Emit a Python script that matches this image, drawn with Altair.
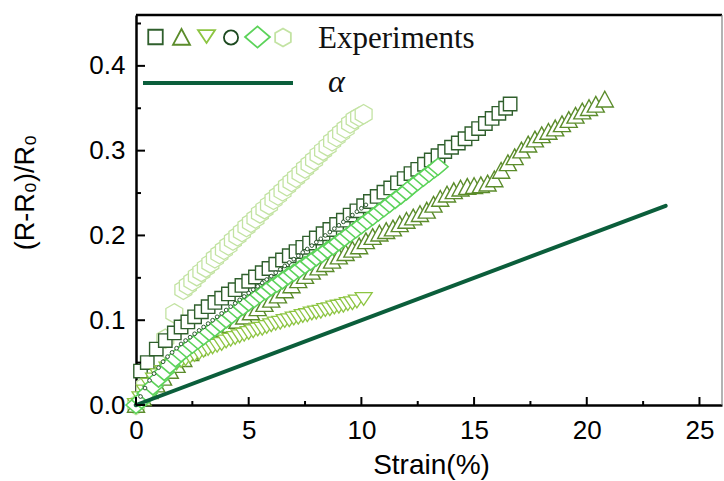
import altair as alt
import pandas as pd

# ---------------- data ----------------
sq_x = [0.2, 0.5, 0.9, 1.3, 1.7, 2.0, 2.3, 2.6, 2.9, 3.2, 3.5, 3.8, 4.1, 4.4, 4.7, 5.0, 5.3, 5.6, 5.9, 6.2,
        6.5, 6.8, 7.1, 7.4, 7.7, 8.0, 8.3, 8.6, 8.9, 9.2, 9.5, 9.8, 10.1, 10.4, 10.7, 11.0, 11.3, 11.6, 11.9,
        12.2, 12.5, 12.8, 13.1, 13.4, 13.7, 14.0, 14.3, 14.6, 14.9, 15.2, 15.5, 15.8, 16.1, 16.4, 16.6]
sq_y = [0.040, 0.050, 0.066, 0.076, 0.085, 0.092, 0.098, 0.104, 0.110, 0.116, 0.121, 0.126, 0.131, 0.136,
        0.141, 0.146, 0.151, 0.156, 0.161, 0.166, 0.171, 0.176, 0.181, 0.186, 0.191, 0.197, 0.202, 0.207,
        0.213, 0.218, 0.224, 0.229, 0.235, 0.240, 0.246, 0.251, 0.256, 0.262, 0.267, 0.273, 0.278, 0.284,
        0.289, 0.294, 0.299, 0.304, 0.309, 0.314, 0.320, 0.326, 0.332, 0.338, 0.344, 0.350, 0.355]

tu_x = [0.0, 0.3, 0.6, 0.9, 1.2, 1.5, 1.8, 2.1, 2.4, 2.7, 3.0, 3.3, 3.6, 3.9, 4.2, 4.5, 4.8, 5.1, 5.4, 5.7,
        6.0, 6.3, 6.6, 6.9, 7.2, 7.5, 7.8, 8.1, 8.4, 8.7, 9.0, 9.3, 9.6, 9.9, 10.2, 10.5, 10.8, 11.1, 11.4,
        11.7, 12.0, 12.3, 12.6, 12.9, 13.2, 13.5, 13.8, 14.1, 14.4, 14.7, 15.0, 15.3, 15.6, 15.9, 16.2, 16.5,
        16.8, 17.1, 17.4, 17.7, 18.0, 18.3, 18.6, 18.9, 19.2, 19.5, 19.8, 20.1, 20.4, 20.8]
tu_y = [0.000, 0.008, 0.016, 0.024, 0.032, 0.040, 0.047, 0.054, 0.061, 0.067, 0.073, 0.079, 0.084, 0.089,
        0.094, 0.099, 0.104, 0.109, 0.114, 0.119, 0.124, 0.129, 0.135, 0.141, 0.147, 0.152, 0.157, 0.162,
        0.166, 0.170, 0.175, 0.179, 0.183, 0.187, 0.193, 0.198, 0.202, 0.205, 0.208, 0.213, 0.217, 0.221,
        0.225, 0.229, 0.236, 0.243, 0.248, 0.252, 0.255, 0.257, 0.258, 0.259, 0.261, 0.266, 0.276, 0.285,
        0.292, 0.300, 0.307, 0.313, 0.318, 0.322, 0.326, 0.331, 0.336, 0.341, 0.346, 0.350, 0.354, 0.360]

td_x = [0.0, 0.2, 0.4, 0.6, 0.8, 1.0, 1.2, 1.4, 1.6, 1.8, 2.0, 2.2, 2.4, 2.6, 2.8, 3.0, 3.2, 3.4, 3.6, 3.8,
        4.0, 4.2, 4.4, 4.6, 4.8, 5.0, 5.2, 5.4, 5.6, 5.8, 6.0, 6.2, 6.4, 6.6, 6.8, 7.0, 7.2, 7.4, 7.6, 7.8,
        8.0, 8.2, 8.4, 8.6, 8.8, 9.0, 9.2, 9.4, 9.6, 9.8, 10.1]
td_y = [0.000, 0.008, 0.016, 0.024, 0.030, 0.035, 0.039, 0.043, 0.046, 0.049, 0.052, 0.054, 0.057, 0.059,
        0.061, 0.064, 0.066, 0.068, 0.070, 0.072, 0.075, 0.077, 0.079, 0.081, 0.083, 0.085, 0.087, 0.089,
        0.090, 0.092, 0.094, 0.096, 0.097, 0.099, 0.100, 0.102, 0.103, 0.105, 0.106, 0.108, 0.109, 0.110,
        0.112, 0.113, 0.115, 0.116, 0.117, 0.119, 0.120, 0.122, 0.125]

ci_x = [0.0, 0.2, 0.4, 0.6, 0.8, 1.0, 1.2, 1.4, 1.6, 1.8, 2.0, 2.2, 2.4, 2.6, 2.8, 3.0, 3.2, 3.4, 3.6, 3.8,
        4.0, 4.2, 4.4, 4.6, 4.8, 5.0, 5.2, 5.4, 5.6, 5.8, 6.0, 6.2, 6.4, 6.6, 6.8, 7.0, 7.2, 7.4, 7.6, 7.8,
        8.0, 8.2, 8.4, 8.6, 8.8, 9.0, 9.2, 9.4, 9.6, 9.8, 10.0, 10.2]
ci_y = [0.000, 0.010, 0.020, 0.029, 0.037, 0.044, 0.051, 0.057, 0.062, 0.067, 0.072, 0.076, 0.080, 0.084,
        0.088, 0.092, 0.096, 0.100, 0.104, 0.108, 0.112, 0.116, 0.120, 0.124, 0.128, 0.132, 0.136, 0.140,
        0.144, 0.148, 0.152, 0.156, 0.160, 0.164, 0.168, 0.172, 0.176, 0.180, 0.184, 0.188, 0.192, 0.196,
        0.200, 0.204, 0.208, 0.212, 0.216, 0.220, 0.224, 0.228, 0.232, 0.236]

di_x = [0.0, 0.25, 0.5, 0.75, 1.0, 1.25, 1.5, 1.75, 2.0, 2.25, 2.5, 2.75, 3.0, 3.25, 3.5, 3.75, 4.0, 4.25,
        4.5, 4.75, 5.0, 5.25, 5.5, 5.75, 6.0, 6.25, 6.5, 6.75, 7.0, 7.25, 7.5, 7.75, 8.0, 8.25, 8.5, 8.75,
        9.0, 9.25, 9.5, 9.75, 10.0, 10.25, 10.5, 10.75, 11.0, 11.25, 11.5, 11.75, 12.0, 12.25, 12.5, 12.75,
        13.0, 13.25, 13.4]
di_y = [0.000, 0.006, 0.014, 0.022, 0.031, 0.039, 0.047, 0.055, 0.061, 0.066, 0.071, 0.076, 0.081, 0.086,
        0.091, 0.096, 0.101, 0.106, 0.112, 0.116, 0.121, 0.125, 0.130, 0.134, 0.139, 0.143, 0.147, 0.152,
        0.156, 0.160, 0.165, 0.169, 0.174, 0.178, 0.183, 0.187, 0.192, 0.197, 0.202, 0.207, 0.212, 0.217,
        0.222, 0.227, 0.232, 0.237, 0.242, 0.247, 0.252, 0.258, 0.263, 0.268, 0.273, 0.278, 0.281]

hx_x = [0.0, 0.4, 0.9, 1.3, 1.7, 2.1, 2.3, 2.5, 2.7, 2.9, 3.1, 3.3, 3.5, 3.7, 3.9, 4.1, 4.3, 4.5, 4.7, 4.9,
        5.1, 5.3, 5.5, 5.7, 5.9, 6.1, 6.3, 6.5, 6.7, 6.9, 7.1, 7.3, 7.5, 7.7, 7.9, 8.1, 8.3, 8.5, 8.7, 8.9,
        9.1, 9.3, 9.5, 9.7, 9.9, 10.1]
hx_y = [0.000, 0.022, 0.050, 0.078, 0.108, 0.136, 0.141, 0.146, 0.152, 0.157, 0.162, 0.167, 0.173, 0.178,
        0.183, 0.188, 0.194, 0.199, 0.204, 0.210, 0.215, 0.220, 0.226, 0.231, 0.236, 0.242, 0.247, 0.252,
        0.258, 0.263, 0.268, 0.273, 0.279, 0.284, 0.289, 0.295, 0.300, 0.305, 0.311, 0.316, 0.321, 0.326,
        0.332, 0.337, 0.340, 0.343]

alpha_x = [0.0, 23.5]
alpha_y = [0.0, 0.235]

x_major = [0, 5, 10, 15, 20, 25]
x_minor = [2.5, 7.5, 12.5, 17.5, 22.5]
y_major = [0.0, 0.1, 0.2, 0.3, 0.4]
y_minor = [0.05, 0.15, 0.25, 0.35, 0.45]

legend_label = "Experiments"
line_label = "α"
x_title = "Strain(%)"
y_title = "(R-R₀)/R₀"

# ---------------- styling ----------------
W, H = 586, 390
C_SQ = "#2f5f2c"
C_TU = "#5b8c2b"
C_TD = "#8dc542"
C_CI = "#1d4a20"
C_DI = "#5cd35a"
C_HX = "#c3e3a3"
C_LINE = "#0b5e3b"

SH_SQ = "square"
SH_TU = "M0,-1L1,0.85L-1,0.85Z"
SH_TD = "M0,0.75L1,-0.75L-1,-0.75Z"
SH_DI = "M-1,0L0,-0.85L1,0L0,0.85Z"
SH_HX = "M0,-1L0.866,-0.5L0.866,0.5L0,1L-0.866,0.5L-0.866,-0.5Z"

xs = alt.Scale(domain=[0, 26], nice=False, zero=False)
ys = alt.Scale(domain=[0, 0.46], nice=False, zero=False)

X_AX = alt.Axis(
    values=x_major, title=x_title, grid=False, tickSize=0, ticks=False, labelPadding=12,
    labelFontSize=26, labelFont="Liberation Sans", labelColor="black",
    domainColor="black", domainWidth=2.5, labelFlush=False, labelOverlap=False,
    titleFont="Liberation Sans", titleFontSize=28, titleFontWeight="normal", titleColor="black",
    titleX=295, titleY=68, titleBaseline="alphabetic", titleAlign="center")
Y_AX = alt.Axis(
    values=y_major, format=".1f", title=y_title, grid=False, tickSize=0, ticks=False, labelPadding=11,
    labelFontSize=26, labelFont="Liberation Sans", labelColor="black",
    domainColor="black", domainWidth=2.5, labelFlush=False, labelOverlap=False,
    titleFont="Liberation Sans", titleFontSize=27, titleFontWeight="normal", titleColor="black",
    titleX=-111, titleY=177, titleAngle=-90, titleBaseline="middle", titleAlign="center")


def XE(f="x"):
    return alt.X(f"{f}:Q", scale=xs, axis=X_AX, title=x_title)


def YE(f="y"):
    return alt.Y(f"{f}:Q", scale=ys, axis=Y_AX, title=y_title)


def series(xv, yv, shape, size, color, sw=1.4):
    df = pd.DataFrame({"x": xv, "y": yv})
    return alt.Chart(df).mark_point(
        shape=shape, size=size, filled=True, fill="white", fillOpacity=1,
        stroke=color, strokeWidth=sw, opacity=1
    ).encode(x=XE(), y=YE())


one = pd.DataFrame({"a": [0]})

line_df = pd.DataFrame({"x": alpha_x, "y": alpha_y})
alpha_line = alt.Chart(line_df).mark_line(color=C_LINE, strokeWidth=4, strokeCap="round").encode(
    x=XE(), y=YE())


def xticks(vals, length):
    return alt.Chart(pd.DataFrame({"x": vals})).mark_rule(color="black", strokeWidth=2).encode(
        x=XE(), y=alt.value(H), y2=alt.value(H - length))


def yticks(vals, length):
    return alt.Chart(pd.DataFrame({"y": vals})).mark_rule(color="black", strokeWidth=2).encode(
        y=YE(), x=alt.value(0), x2=alt.value(length))


top_border = alt.Chart(one).mark_rule(color="black", strokeWidth=2.5).encode(
    x=alt.value(0), x2=alt.value(W), y=alt.value(0))
right_border = alt.Chart(one).mark_rule(color="#808080", strokeWidth=1.2).encode(
    x=alt.value(W), y=alt.value(0), y2=alt.value(H))


def leg_sym(px, py, shape, size, color, sw=1.8):
    return alt.Chart(one).mark_point(
        shape=shape, size=size, filled=True, fill="white", fillOpacity=1,
        stroke=color, strokeWidth=sw, opacity=1).encode(x=alt.value(px), y=alt.value(py))


legend = [
    leg_sym(19.5, 22, SH_SQ, 210, C_SQ),
    leg_sym(45.5, 22.5, SH_TU, 290, C_TU),
    leg_sym(70.5, 21.5, SH_TD, 290, C_TD),
    leg_sym(95, 22.5, "circle", 200, C_CI),
    leg_sym(121.5, 22, SH_DI, 620, C_DI),
    leg_sym(147, 22.5, SH_HX, 330, C_HX),
    alt.Chart(one).mark_text(text=legend_label, align="left", baseline="alphabetic",
                             font="Liberation Serif", fontSize=31, color="#111111").encode(
        x=alt.value(182), y=alt.value(33)),
    alt.Chart(one).mark_rule(color=C_LINE, strokeWidth=4).encode(
        x=alt.value(7), x2=alt.value(157), y=alt.value(68)),
    alt.Chart(one).mark_text(text=line_label, align="left", baseline="alphabetic",
                             font="Liberation Serif", fontStyle="italic", fontSize=32,
                             color="#111111").encode(x=alt.value(192), y=alt.value(77)),
]

layers = [
    series(hx_x, hx_y, SH_HX, 380, C_HX, 1.3),
    series(sq_x, sq_y, SH_SQ, 180, C_SQ, 1.4),
    series(tu_x, tu_y, SH_TU, 290, C_TU, 1.4),
    series(td_x, td_y, SH_TD, 290, C_TD, 1.3),
    series(di_x, di_y, SH_DI, 400, C_DI, 1.6),
    series(ci_x, ci_y, "circle", 14, C_CI, 0.9),
    alpha_line,
    xticks(x_major, 8), xticks(x_minor, 4), yticks(y_major, 9), yticks(y_minor, 5),
    top_border, right_border,
] + legend

chart = alt.layer(*layers).properties(
    width=W, height=H,
    padding={"left": 136, "top": 15, "right": 2, "bottom": 76},
    autosize=alt.AutoSizeParams(type="none"),
    background="white",
).configure_view(stroke=None)

chart.save("out.html", embed_options={"renderer": "svg", "actions": False})
